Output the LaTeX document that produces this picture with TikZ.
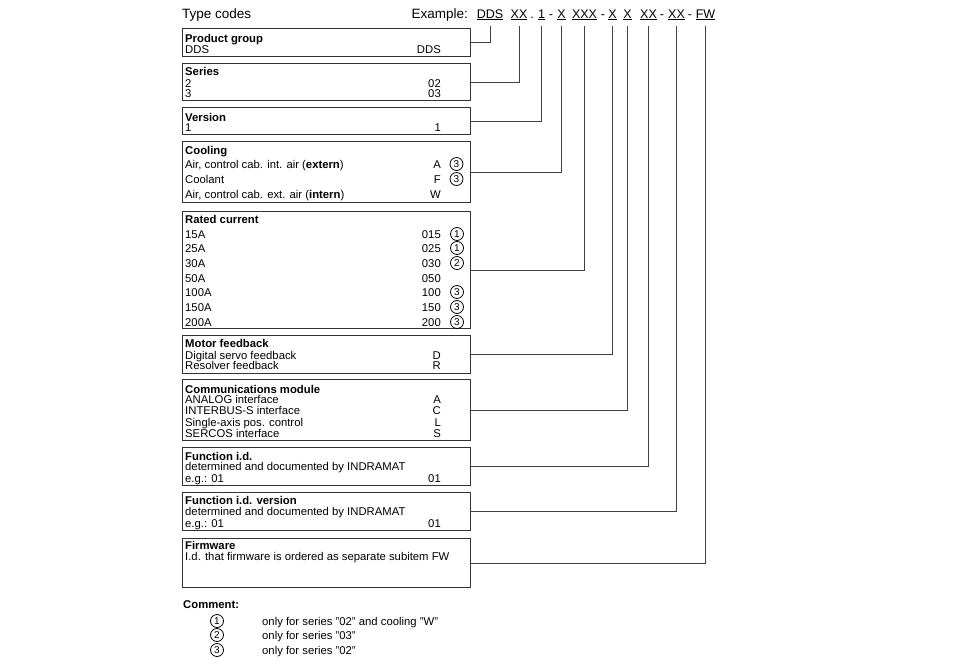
\documentclass[tikz,border=0pt]{standalone}
\usepackage{fontspec}
\setmainfont{Liberation Sans}
\usetikzlibrary{positioning}

\begin{document}
\begin{tikzpicture}[
  x=1pt, y=-1pt,
  font=\fontsize{11.3}{12}\selectfont,
  box/.style={
    draw=black!80,
    line width=1.1pt,
    anchor=north west,
    minimum width=288pt,
    inner sep=0pt
  },
  txt/.style={anchor=base west, inner sep=0pt},
  val/.style={anchor=base east, inner sep=0pt},
  head/.style={anchor=base, inner sep=0pt, font=\fontsize{12.5}{14}\selectfont},
  note/.style={draw, circle, line width=0.8pt, minimum size=13pt,
    inner sep=0pt, font=\fontsize{10}{10}\selectfont},
  link/.style={draw=black!75, line width=0.9pt, shorten >=6pt}
]
  \useasboundingbox (0,0) rectangle (960,665);

  % heading and example code
  \node[anchor=base west, inner sep=0pt, font=\fontsize{13.5}{14}\selectfont]
    (title) at (182,18) {Type codes};
  \node[anchor=base east, inner sep=0pt, font=\fontsize{13.5}{14}\selectfont]
    (example) at (468,18) {Example:};
  \node[head] (c-dds) at (490,18) {\underline{DDS}};
  \node[head] (c-ser) at (519,18) {\underline{XX}};
  \node[head] (d-1) at (532,18) {.};
  \node[head] (c-ver) at (541.5,18) {\underline{1}};
  \node[head] (d-2) at (551,18) {-};
  \node[head] (c-cool) at (561.5,18) {\underline{X}};
  \node[head] (c-cur) at (584.5,18) {\underline{XXX}};
  \node[head] (d-3) at (603,18) {-};
  \node[head] (c-mfb) at (612.5,18) {\underline{X}};
  \node[head] (c-com) at (627.5,18) {\underline{X}};
  \node[head] (c-fid) at (648.5,18) {\underline{XX}};
  \node[head] (d-4) at (662,18) {-};
  \node[head] (c-fver) at (676.5,18) {\underline{XX}};
  \node[head] (d-5) at (690,18) {-};
  \node[head] (c-fw) at (705.5,18) {\underline{FW}};

  % product group
  \node[box, minimum height=28pt] (pg) at (182,28) {};
  \node[txt] (pg-t) at (185,42) {\textbf{Product group}};
  \node[txt] (pg-1) at (185,53) {DDS};
  \node[val] (pg-1v) at (441,53) {DDS};

  % series
  \node[box, minimum height=37pt] (ser) at (182,63) {};
  \node[txt] (ser-t) at (185,75) {\textbf{Series}};
  \node[txt] (ser-1) at (185,87) {2};
  \node[val] (ser-1v) at (441,87) {02};
  \node[txt] (ser-2) at (185,97) {3};
  \node[val] (ser-2v) at (441,97) {03};

  % version
  \node[box, minimum height=27pt] (ver) at (182,107) {};
  \node[txt] (ver-t) at (185,121) {\textbf{Version}};
  \node[txt] (ver-1) at (185,131) {1};
  \node[val] (ver-1v) at (441,131) {1};

  % cooling
  \node[box, minimum height=61pt] (cool) at (182,141) {};
  \node[txt] (cool-t) at (185,154) {\textbf{Cooling}};
  \node[txt] (cool-1) at (185,168) {Air, control cab. int. air (\textbf{extern})};
  \node[val] (cool-1v) at (441,168) {A};
  \node[txt] (cool-2) at (185,183) {Coolant};
  \node[val] (cool-2v) at (441,183) {F};
  \node[txt] (cool-3) at (185,198) {Air, control cab. ext. air (\textbf{intern})};
  \node[val] (cool-3v) at (441,198) {W};
  \node[note] (cool-n1) at (456.5,164) {3};
  \node[note] (cool-n2) at (456.5,179) {3};

  % rated current
  \node[box, minimum height=117pt] (cur) at (182,211) {};
  \node[txt] (cur-t) at (185,223) {\textbf{Rated current}};
  \foreach \lab/\code/\y [count=\i] in
    {15A/015/238, 25A/025/252, 30A/030/267, 50A/050/282,
     100A/100/296, 150A/150/311, 200A/200/326} {
    \node[txt] (cur-\i) at (185,\y) {\lab};
    \node[val] (cur-\i v) at (441,\y) {\code};
  }
  \node[note] (cur-n1) at (457,234) {1};
  \node[note] (cur-n2) at (457,248) {1};
  \node[note] (cur-n3) at (457,263) {2};
  \node[note] (cur-n5) at (457,292) {3};
  \node[note] (cur-n6) at (457,307) {3};
  \node[note] (cur-n7) at (457,322) {3};

  % motor feedback
  \node[box, minimum height=38pt] (mfb) at (182,335) {};
  \node[txt] (mfb-t) at (185,347) {\textbf{Motor feedback}};
  \node[txt] (mfb-1) at (185,359) {Digital servo feedback};
  \node[val] (mfb-1v) at (441,359) {D};
  \node[txt] (mfb-2) at (185,369) {Resolver feedback};
  \node[val] (mfb-2v) at (441,369) {R};

  % communications module
  \node[box, minimum height=61pt] (com) at (182,379) {};
  \node[txt] (com-t) at (185,393) {\textbf{Communications module}};
  \node[txt] (com-1) at (185,403) {ANALOG interface};
  \node[val] (com-1v) at (441,403) {A};
  \node[txt] (com-2) at (185,414) {INTERBUS-S interface};
  \node[val] (com-2v) at (441,414) {C};
  \node[txt] (com-3) at (185,426) {Single-axis pos. control};
  \node[val] (com-3v) at (441,426) {L};
  \node[txt] (com-4) at (185,437) {SERCOS interface};
  \node[val] (com-4v) at (441,437) {S};

  % function i.d.
  \node[box, minimum height=38pt] (fid) at (182,447) {};
  \node[txt] (fid-t) at (185,460) {\textbf{Function i.d.}};
  \node[txt] (fid-1) at (185,470) {determined and documented by INDRAMAT};
  \node[txt] (fid-2) at (185,482) {e.g.: 01};
  \node[val] (fid-2v) at (441,482) {01};

  % function i.d. version
  \node[box, minimum height=38pt] (fver) at (182,492) {};
  \node[txt] (fver-t) at (185,504) {\textbf{Function i.d. version}};
  \node[txt] (fver-1) at (185,515) {determined and documented by INDRAMAT};
  \node[txt] (fver-2) at (185,527) {e.g.: 01};
  \node[val] (fver-2v) at (441,527) {01};

  % firmware
  \node[box, minimum height=49pt] (fw) at (182,538) {};
  \node[txt] (fw-t) at (185,549) {\textbf{Firmware}};
  \node[txt] (fw-1) at (185,560) {I.d. that firmware is ordered as separate subitem FW};

  % connectors to the example code
  \draw[link] (pg.east) -| (c-dds.south);
  \draw[link] (ser.east) -| (c-ser.south);
  \draw[link] (ver.east) -| (c-ver.south);
  \draw[link] (cool.east) -| (c-cool.south);
  \draw[link] (cur.east) -| (c-cur.south);
  \draw[link] (mfb.east) -| (c-mfb.south);
  \draw[link] (com.east) -| (c-com.south);
  \draw[link] (fid.east) -| (c-fid.south);
  \draw[link] (fver.east) -| (c-fver.south);
  \draw[link] (fw.east) -| (c-fw.south);

  % comments
  \node[txt] (cm-t) at (183,608) {\textbf{Comment:}};
  \node[note] (cm-n1) at (217,621) {1};
  \node[txt] (cm-1) at (262,625) {only for series "02" and cooling "W"};
  \node[note] (cm-n2) at (217,635) {2};
  \node[txt] (cm-2) at (262,639) {only for series "03"};
  \node[note] (cm-n3) at (217,650) {3};
  \node[txt] (cm-3) at (262,654) {only for series "02"};
\end{tikzpicture}
\end{document}
